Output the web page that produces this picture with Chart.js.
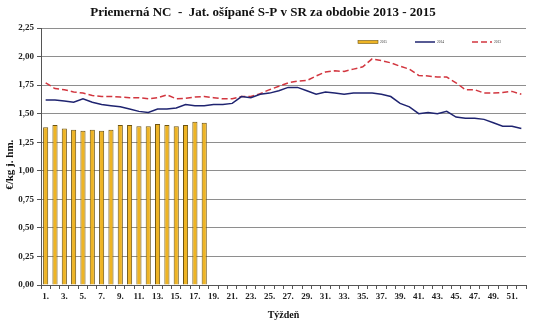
<!DOCTYPE html>
<html>
<head>
<meta charset="utf-8">
<script src="https://cdn.jsdelivr.net/npm/chart.js@4.4.1/dist/chart.umd.min.js"></script>
<style>
  html, body { margin: 0; padding: 0; background: #fff; }
  canvas { display: block; }
</style>
</head>
<body>
<canvas id="chart" width="540" height="329"></canvas>
<script>
// week labels (x axis categories)
const weeks = [
  '1.', '2.', '3.', '4.', '5.', '6.', '7.', '8.', '9.', '10.',
  '11.', '12.', '13.', '14.', '15.', '16.', '17.', '18.', '19.', '20.',
  '21.', '22.', '23.', '24.', '25.', '26.', '27.', '28.', '29.', '30.',
  '31.', '32.', '33.', '34.', '35.', '36.', '37.', '38.', '39.', '40.',
  '41.', '42.', '43.', '44.', '45.', '46.', '47.', '48.', '49.', '50.',
  '51.', '52.'
];

// average price EUR/kg, per week
const price2015 = [
  1.38, 1.40, 1.37, 1.36, 1.35, 1.36, 1.35, 1.36, 1.40, 1.40,
  1.39, 1.39, 1.41, 1.40, 1.39, 1.40, 1.43, 1.42
];

const price2014 = [
  1.62, 1.62, 1.61, 1.60, 1.63, 1.60, 1.58, 1.57, 1.56, 1.54,
  1.52, 1.51, 1.54, 1.54, 1.55, 1.58, 1.57, 1.57, 1.58, 1.58,
  1.59, 1.65, 1.64, 1.67, 1.68, 1.70, 1.73, 1.73, 1.70, 1.67,
  1.69, 1.68, 1.67, 1.68, 1.68, 1.68, 1.67, 1.65, 1.59, 1.56,
  1.50, 1.51, 1.50, 1.52, 1.47, 1.46, 1.46, 1.45, 1.42, 1.39,
  1.39, 1.37
];

const price2013 = [
  1.77, 1.72, 1.71, 1.69, 1.68, 1.66, 1.65, 1.65, 1.645, 1.64,
  1.64, 1.63, 1.64, 1.665, 1.63, 1.635, 1.645, 1.65, 1.64, 1.63,
  1.63, 1.65, 1.65, 1.675, 1.71, 1.74, 1.77, 1.785, 1.79, 1.83,
  1.865, 1.875, 1.87, 1.89, 1.91, 1.98, 1.965, 1.945, 1.915, 1.89,
  1.835, 1.83, 1.82, 1.82, 1.77, 1.71, 1.71, 1.68, 1.68, 1.685,
  1.695, 1.67
];

const seriesNames = ['2015', '2014', '2013'];

const serif = "'Liberation Serif', 'Times New Roman', serif";
const gridGray = '#8e8e8e';
const axisDark = '#555';

// small legend drawn inside the plot, top right (like the original)
const cornerLegend = {
  id: 'cornerLegend',
  afterDraw(chart) {
    const { ctx, chartArea } = chart;
    const y = chartArea.top + 14;
    let x = chartArea.right - 168;
    chart.data.datasets.forEach(ds => {
      ctx.save();
      if (ds.type === 'bar') {
        ctx.fillStyle = ds.backgroundColor;
        ctx.strokeStyle = ds.borderColor;
        ctx.lineWidth = 0.6;
        ctx.fillRect(x, y - 1.5, 20, 3);
        ctx.strokeRect(x, y - 1.5, 20, 3);
      } else {
        ctx.strokeStyle = ds.borderColor;
        ctx.lineWidth = ds.borderWidth;
        ctx.setLineDash(ds.borderDash || []);
        ctx.beginPath();
        ctx.moveTo(x, y);
        ctx.lineTo(x + 20, y);
        ctx.stroke();
      }
      ctx.fillStyle = '#333';
      ctx.font = '3.5px ' + serif;
      ctx.textBaseline = 'middle';
      ctx.fillText(ds.label, x + 22, y);
      ctx.restore();
      x += 57;
    });
  }
};

new Chart(document.getElementById('chart'), {
  data: {
    labels: weeks,
    datasets: [
      {
        type: 'bar',
        label: seriesNames[0],
        data: price2015,
        backgroundColor: '#eeb424',
        borderColor: '#6e5410',
        borderWidth: 1,
        barPercentage: 0.55,
        categoryPercentage: 1.0
      },
      {
        type: 'line',
        label: seriesNames[1],
        data: price2014,
        borderColor: '#1f2470',
        borderWidth: 1.5,
        pointRadius: 0,
        tension: 0,
        fill: false
      },
      {
        type: 'line',
        label: seriesNames[2],
        data: price2013,
        borderColor: '#d2363f',
        borderWidth: 1.5,
        borderDash: [6, 3],
        pointRadius: 0,
        tension: 0,
        fill: false
      }
    ]
  },
  options: {
    responsive: false,
    animation: false,
    layout: { padding: { top: 5, right: 14, left: 0, bottom: 0 } },
    plugins: {
      legend: { display: false },
      tooltip: { enabled: false },
      title: {
        display: true,
        text: 'Priemerná NC  -  Jat. ošípané S-P v SR za obdobie 2013 - 2015',
        color: '#111',
        font: { family: serif, size: 13, weight: 'bold' },
        padding: { top: 0, bottom: 7.4 }
      }
    },
    scales: {
      x: {
        afterFit: (scale) => { scale.height = 44; },
        grid: {
          drawOnChartArea: true,
          color: (c) => (c.index === weeks.length ? gridGray : 'rgba(0,0,0,0)'),
          tickColor: axisDark,
          tickLength: 4
        },
        border: { color: axisDark, width: 1 },
        ticks: {
          autoSkip: false,
          maxRotation: 0,
          color: '#222',
          font: { family: serif, size: 9, weight: 'bold' },
          padding: 2,
          callback: (v, i) => (i % 2 === 0 ? weeks[i] : '')
        },
        title: {
          display: true,
          text: 'Týždeň',
          color: '#111',
          font: { family: serif, size: 10, weight: 'bold' },
          padding: { top: 0, bottom: 8 }
        }
      },
      y: {
        min: 0,
        max: 2.25,
        afterFit: (scale) => { scale.width = 41; },
        grid: {
          color: gridGray,
          lineWidth: 1,
          tickColor: axisDark,
          tickLength: 4
        },
        border: { color: axisDark, width: 1 },
        ticks: {
          stepSize: 0.25,
          color: '#222',
          padding: 3,
          font: { family: serif, size: 9, weight: 'bold' },
          callback: (v) => v.toFixed(2).replace('.', ',')
        },
        title: {
          display: true,
          // trailing spaces nudge the label down a little, as in the original
          text: '€/kg j. hm.      ',
          color: '#111',
          font: { family: serif, size: 11, weight: 'bold' },
          padding: { top: 4, bottom: 4 }
        }
      }
    }
  },
  plugins: [cornerLegend]
});
</script>
</body>
</html>
